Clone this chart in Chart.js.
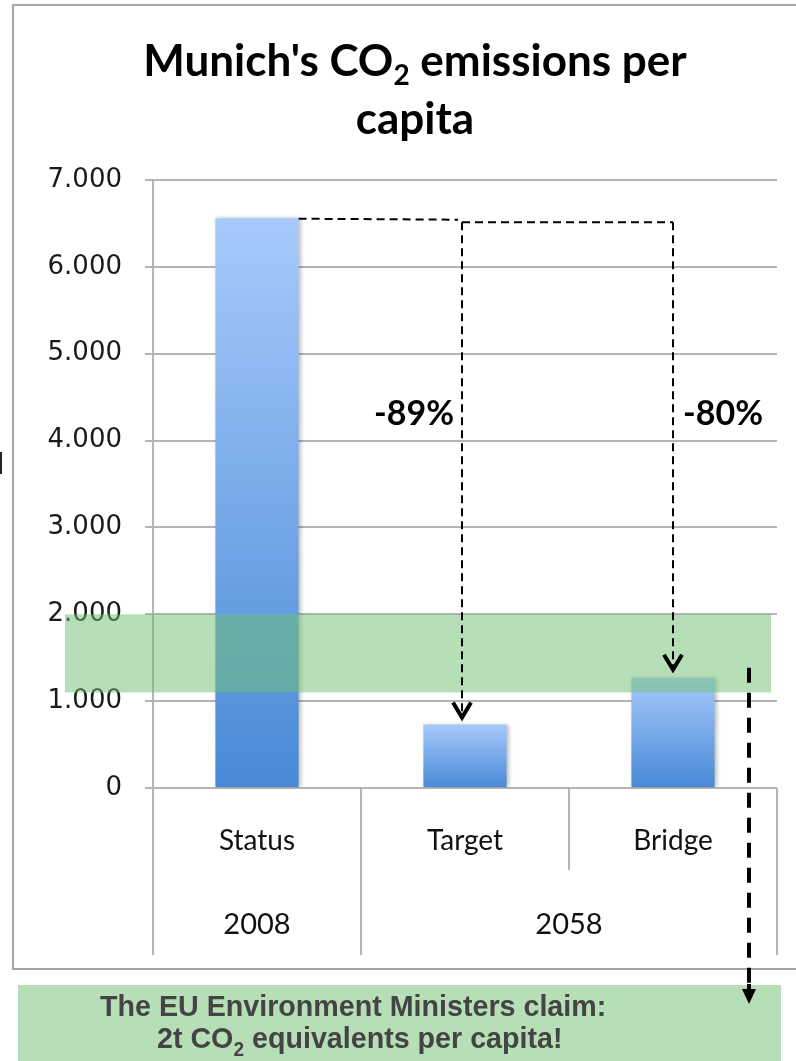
<!DOCTYPE html>
<html><head><meta charset="utf-8">
<script src="https://cdn.jsdelivr.net/npm/chart.js@4/dist/chart.umd.min.js"></script>
<style>html,body{margin:0;padding:0;background:#fff;overflow:hidden}#wrap{width:796px;height:1061px;position:relative}</style>
</head><body><div id="wrap"><canvas id="c"></canvas></div>
<script>
// ---- data ----
const categories = ['Status', 'Target', 'Bridge'];
const groupLabels = ['2008', '2058'];
const groupFirst = [0, 1];
const groupLast = [0, 2];
const emissions = [6.56, 0.73, 1.27];
const yMin = 0, yMax = 7, yStep = 1;
const claimBand = [1.1, 2.0];
const reductionLabels = ['-89%', '-80%'];
const reductionTargets = [1, 2];
const reductionLabelLevel = 4.3;
const titleMain = "Munich's CO";
const titleSub = '2';
const titleRest = ' emissions per';
const titleLine2 = 'capita';
const claimLine1 = 'The EU Environment Ministers claim:';
const claimLine2a = '2t CO';
const claimLine2sub = '2';
const claimLine2b = ' equivalents per capita!';

const GRID = '#b4b4b4';
const BAND = 'rgba(112,192,112,0.5)';
const BOX = 'rgb(183,223,183)';

function barGradient(ctx) {
  const chart = ctx.chart;
  const ys = chart.scales.y;
  if (!ys || ctx.dataIndex === undefined) return '#6a9fe6';
  const top = ys.getPixelForValue(emissions[ctx.dataIndex]);
  const bot = ys.getPixelForValue(0);
  if (!isFinite(top) || !isFinite(bot) || top === bot) return '#6a9fe6';
  const g = chart.ctx.createLinearGradient(0, top, 0, bot);
  g.addColorStop(0, '#a7cafb');
  g.addColorStop(1, '#4889d6');
  return g;
}

const decor = {
  id: 'decor',
  beforeDatasetsDraw(chart) {
    const c = chart.ctx; c.save();
    c.shadowColor = 'rgba(0,0,0,0.25)'; c.shadowBlur = 4; c.shadowOffsetX = 2; c.shadowOffsetY = 0;
  },
  afterDatasetsDraw(chart) { chart.ctx.restore(); },
  afterDraw(chart) {
    const c = chart.ctx, a = chart.chartArea, xs = chart.scales.x, ys = chart.scales.y;
    const bars = chart.getDatasetMeta(0).data;
    c.save();
    // outer frame
    c.strokeStyle = '#a6a6a6'; c.lineWidth = 2;
    c.beginPath();
    c.moveTo(796, 5); c.lineTo(13, 5); c.lineTo(13, 969); c.lineTo(796, 969);
    c.stroke();
    // category dividers below axis
    c.strokeStyle = GRID; c.lineWidth = 2;
    const half = (xs.getPixelForValue(1) - xs.getPixelForValue(0)) / 2;
    const bounds = [];
    for (let i = 0; i <= categories.length; i++) bounds.push(xs.getPixelForValue(i) - half);
    bounds.forEach((bx, i) => {
      const isGroupEdge = i === 0 || i === categories.length || groupFirst.includes(i);
      c.beginPath();
      c.moveTo(Math.round(bx), a.bottom);
      c.lineTo(Math.round(bx), isGroupEdge ? a.bottom + 167 : a.bottom + 82);
      c.stroke();
    });
    // group labels
    c.fillStyle = '#111'; c.font = '29px Lato'; c.textAlign = 'center'; c.textBaseline = 'middle';
    groupLabels.forEach((g, i) => {
      const gx = (xs.getPixelForValue(groupFirst[i]) + xs.getPixelForValue(groupLast[i])) / 2;
      c.fillText(g, gx, a.bottom + 137);
    });
    // green claim band
    const bTop = ys.getPixelForValue(claimBand[1]), bBot = ys.getPixelForValue(claimBand[0]);
    c.fillStyle = BAND;
    c.fillRect(65, bTop, a.right - 6 - 65, bBot - bTop);
    // dashed guide lines
    const sTop = bars[0].y;
    const sRight = bars[0].x + bars[0].width / 2;
    const tx = bars[reductionTargets[0]].x - 3;
    const bx2 = bars[reductionTargets[1]].x;
    c.strokeStyle = '#000'; c.lineWidth = 2; c.setLineDash([8, 5]);
    c.beginPath();
    c.moveTo(sRight, sTop + 0.5); c.lineTo(tx - 4, sTop + 1.5);
    c.moveTo(tx, sTop + 4); c.lineTo(bx2, sTop + 4);
    c.moveTo(tx, sTop + 4); c.lineTo(tx, bars[1].y - 10);
    c.moveTo(bx2, sTop + 4); c.lineTo(bx2, bars[2].y - 10);
    c.stroke();
    c.setLineDash([]);
    // chevrons
    c.lineWidth = 4; c.lineJoin = 'miter';
    [[tx, bars[1].y - 7], [bx2, bars[2].y - 8]].forEach(([px, py]) => {
      c.beginPath();
      c.moveTo(px - 9, py - 15); c.lineTo(px, py); c.lineTo(px + 9, py - 15);
      c.stroke();
    });
    // reduction labels
    c.fillStyle = '#000'; c.font = 'bold 34px Lato'; c.textBaseline = 'middle'; c.textAlign = 'center';
    const ly = ys.getPixelForValue(reductionLabelLevel);
    c.fillText(reductionLabels[0], tx - 48, ly);
    c.fillText(reductionLabels[1], bx2 + 50, ly);
    // big dashed line with arrow
    const dx = bars[2].x + 76;
    c.lineWidth = 4; c.setLineDash([15, 10]);
    c.beginPath(); c.moveTo(dx, bars[2].y - 10); c.lineTo(dx, 990); c.stroke();
    c.setLineDash([]);
    // bottom claim box
    c.fillStyle = BOX; c.fillRect(18, 985, 763, 80);
    c.fillStyle = '#000';
    c.beginPath(); c.moveTo(dx, 984); c.lineTo(dx, 990); c.stroke();
    c.beginPath(); c.moveTo(dx - 7, 989); c.lineTo(dx + 7, 989); c.lineTo(dx, 1004); c.closePath(); c.fill();
    c.fillStyle = '#444'; c.textAlign = 'left'; c.textBaseline = 'alphabetic';
    const sx = 0.955;
    c.save(); c.scale(sx, 1);
    c.font = 'bold 30px "Liberation Sans"';
    c.fillText(claimLine1, 100 / sx, 1016);
    let cx = 157 / sx;
    c.fillText(claimLine2a, cx, 1048); cx += c.measureText(claimLine2a).width;
    c.font = 'bold 20px "Liberation Sans"';
    c.fillText(claimLine2sub, cx, 1056); cx += c.measureText(claimLine2sub).width;
    c.font = 'bold 30px "Liberation Sans"';
    c.fillText(claimLine2b, cx, 1048);
    c.restore();
    // title
    c.fillStyle = '#000'; c.textBaseline = 'alphabetic'; c.textAlign = 'left';
    const bigF = 'bold 44px Lato', smallF = 'bold 28px Lato';
    c.font = bigF; const w1 = c.measureText(titleMain).width, w3 = c.measureText(titleRest).width;
    c.font = smallF; const w2 = c.measureText(titleSub).width;
    let tx0 = 415 - (w1 + w2 + w3) / 2;
    c.font = bigF; c.fillText(titleMain, tx0, 76); tx0 += w1;
    c.font = smallF; c.fillText(titleSub, tx0, 85); tx0 += w2;
    c.font = bigF; c.fillText(titleRest, tx0, 76);
    c.textAlign = 'center'; c.fillText(titleLine2, 415, 134);
    // cropped glyph fragment at left edge
    c.fillStyle = '#222'; c.fillRect(0, 452, 2, 22);
    c.restore();
  }
};

function start() {
  new Chart(document.getElementById('c'), {
    type: 'bar',
    data: {
      labels: categories,
      datasets: [{
        data: emissions,
        backgroundColor: barGradient,
        borderWidth: 0,
        barPercentage: 0.4,
        categoryPercentage: 1.0
      }]
    },
    options: {
      responsive: false,
      animation: false,
      devicePixelRatio: 1,
      layout: { padding: { top: 180, left: 0, right: 19, bottom: 0 } },
      plugins: { legend: { display: false }, title: { display: false }, tooltip: { enabled: false } },
      scales: {
        y: {
          min: yMin, max: yMax,
          afterFit(s) { s.width = 153; },
          ticks: {
            stepSize: yStep,
            callback: v => (v === 0 ? '0' : Number(v).toFixed(3)),
            font: { family: 'DejaVu Sans', size: 26 },
            color: '#1a1a1a',
            padding: 23
          },
          grid: { color: GRID, lineWidth: 2, tickLength: 8 },
          border: { display: true, color: GRID, width: 2 }
        },
        x: {
          afterFit(s) { s.height = 273; },
          grid: { display: false, drawTicks: false },
          border: { display: false },
          ticks: { font: { family: 'Lato', size: 28 }, color: '#111', padding: 36 }
        }
      }
    },
    plugins: [decor]
  });
}
const cv = document.getElementById('c'); cv.width = 796; cv.height = 1061;
Promise.all([
  document.fonts.load('28px Lato'), document.fonts.load('bold 40px Lato'),
  document.fonts.load('24px "DejaVu Sans"'), document.fonts.load('bold 29px "Liberation Sans"')
]).then(start, start);
</script></body></html>
